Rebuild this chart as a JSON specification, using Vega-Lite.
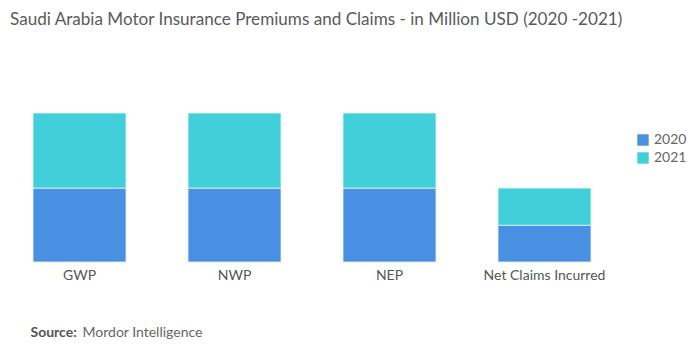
{
  "$schema": "https://vega.github.io/schema/vega-lite/v6.json",
  "width": 620,
  "height": 149,
  "autosize": {"type": "none"},
  "padding": {"left": 2, "top": 113, "right": 78, "bottom": 90},
  "background": "white",
  "config": {"view": {"stroke": null}, "font": "Lato"},
  "title": {
    "text": "Saudi Arabia Motor Insurance Premiums and Claims - in Million USD (2020 -2021)",
    "anchor": "start",
    "frame": "bounds",
    "dx": 8,
    "offset": 85,
    "fontSize": 17.1,
    "fontWeight": "normal",
    "color": "#5a5a5a",
    "font": "Lato"
  },
  "data": {
    "values": [
      {"category": "GWP", "year": "2020", "value": 74.4},
      {"category": "GWP", "year": "2021", "value": 75.6},
      {"category": "NWP", "year": "2020", "value": 74.4},
      {"category": "NWP", "year": "2021", "value": 75.6},
      {"category": "NEP", "year": "2020", "value": 74.4},
      {"category": "NEP", "year": "2021", "value": 75.6},
      {"category": "Net Claims Incurred", "year": "2020", "value": 37},
      {"category": "Net Claims Incurred", "year": "2021", "value": 37.4}
    ]
  },
  "mark": {"type": "bar", "stroke": "#e6f4fb", "strokeWidth": 0.8},
  "encoding": {
    "x": {
      "field": "category",
      "type": "nominal",
      "sort": ["GWP", "NWP", "NEP", "Net Claims Incurred"],
      "scale": {"paddingInner": 0.4, "paddingOuter": 0.2},
      "axis": {
        "title": "Mordor Intelligence",
        "titleFont": "Lato",
        "titleFontSize": 14,
        "titleFontWeight": "normal",
        "titleColor": "#666666",
        "titleAnchor": "start",
        "titleAlign": "left",
        "titleBaseline": "alphabetic",
        "titleX": 80,
        "titleY": 74,
        "labelAngle": 0,
        "labelFontSize": 14,
        "labelColor": "#555555",
        "labelPadding": 6,
        "domain": false,
        "ticks": false
      }
    },
    "y": {
      "field": "value",
      "type": "quantitative",
      "stack": "zero",
      "scale": {"domain": [0, 150], "nice": false},
      "axis": {
        "title": "Source:",
        "titleFont": "Lato",
        "titleFontSize": 14,
        "titleFontWeight": "bold",
        "titleColor": "#555555",
        "titleAngle": 0,
        "titleAlign": "left",
        "titleBaseline": "alphabetic",
        "titleX": 28,
        "titleY": 223,
        "labels": false,
        "ticks": false,
        "domain": false,
        "grid": false
      }
    },
    "color": {
      "field": "year",
      "type": "nominal",
      "scale": {"domain": ["2020", "2021"], "range": ["#4a90e2", "#41d0d9"]},
      "legend": {
        "title": null,
        "orient": "none",
        "legendX": 634,
        "legendY": 20,
        "symbolType": "square",
        "symbolSize": 130,
        "symbolStrokeWidth": 0,
        "labelFontSize": 14,
        "labelColor": "#666666",
        "rowPadding": 4
      }
    },
    "order": {"field": "year", "sort": "ascending"}
  }
}
